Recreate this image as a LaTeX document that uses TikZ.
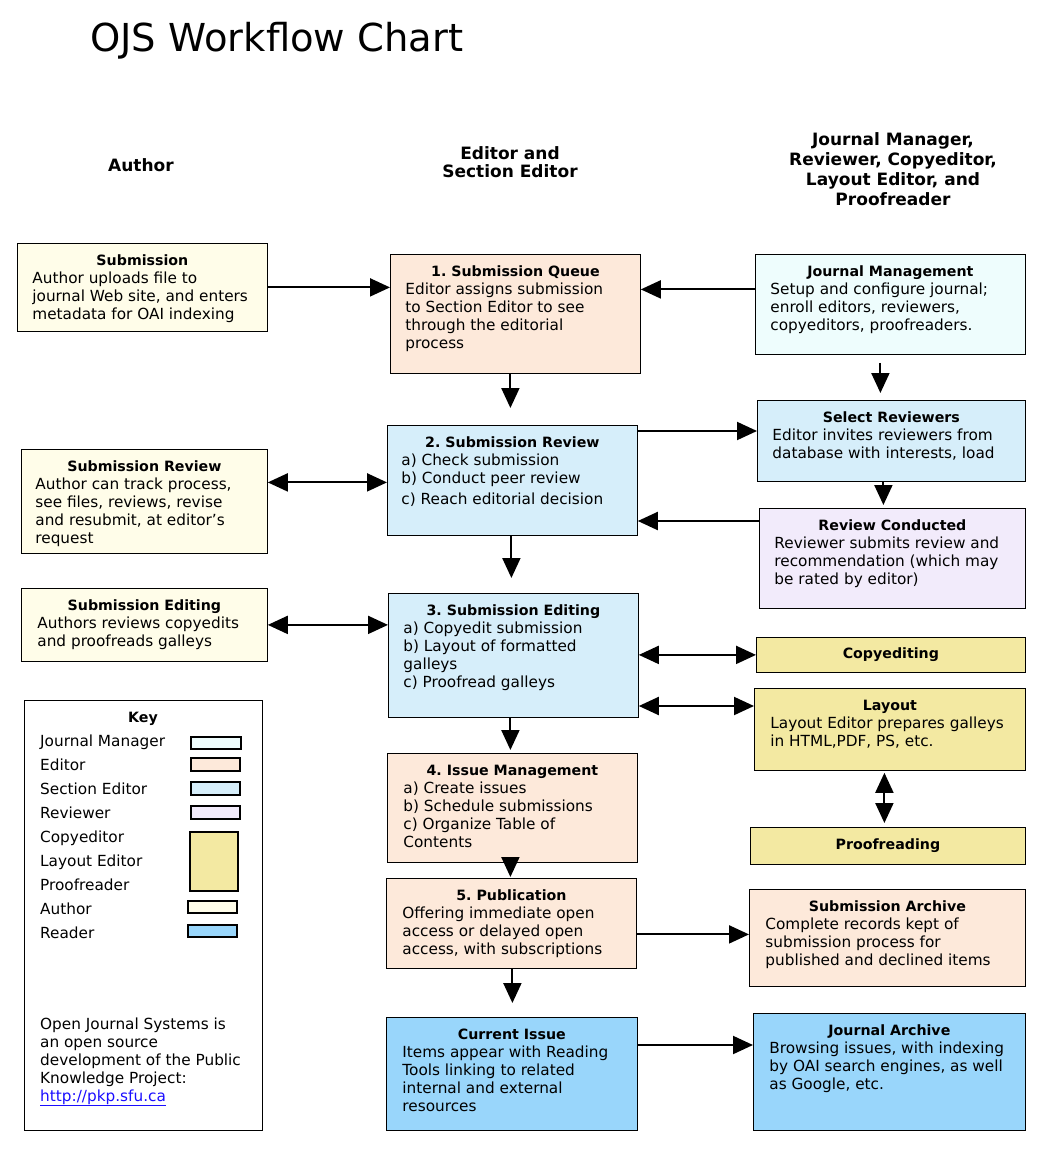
\documentclass[tikz,border=0pt]{standalone}
\usepackage{fontspec}
\setmainfont{DejaVu Sans}
\usetikzlibrary{arrows.meta,calc}
\frenchspacing
\definecolor{cAuthor}{HTML}{FFFDE9}
\definecolor{cEditor}{HTML}{FDE9DA}
\definecolor{cJM}{HTML}{EEFDFD}
\definecolor{cSE}{HTML}{D6EEFA}
\definecolor{cRev}{HTML}{F2EBFB}
\definecolor{cCopy}{HTML}{F3E9A2}
\definecolor{cReader}{HTML}{99D6FB}
\definecolor{cLink}{HTML}{1A0DFF}
\newcommand{\bodyfont}{\fontsize{15.3}{18}\selectfont}
\newcommand{\ttlfont}{\fontsize{14.2}{18}\selectfont\bfseries}
\newcommand{\bxc}[4]{\parbox[t][#2pt][t]{#1pt}{\frenchspacing\bodyfont\parskip=0pt{\centering\ttlfont\rule{0pt}{18.5pt}#3\par}\raggedright #4}}
\tikzset{
  box/.style={draw, line width=0.8pt, inner xsep=15pt, inner ysep=4pt, anchor=north west},
  sbox/.style={draw, line width=0.8pt, inner sep=0pt, anchor=north west, font=\ttlfont},
  arr/.style={line width=2pt, -{Triangle[length=20pt,width=18pt]}},
  darr/.style={line width=2pt, {Triangle[length=20pt,width=18pt]}-{Triangle[length=20pt,width=18pt]}},
  hdr/.style={font=\fontsize{17}{20}\selectfont\bfseries, align=center},
  keyitem/.style={anchor=base west, font=\bodyfont, inner sep=0pt},
  sw/.style={draw, line width=1.2pt}
}
\begin{document}
\begin{tikzpicture}[x=1pt,y=-1pt]
\useasboundingbox (0,0) rectangle (1052,1150);
\fill[white] (0,0) rectangle (1052,1150);

\node[anchor=base west, inner sep=0pt, font=\fontsize{38.5}{40}\selectfont] (title) at (90,52) {OJS Workflow Chart};

\node[hdr] (h1) at (141,165) {Author};
\node[hdr, font=\fontsize{17}{18}\selectfont\bfseries] (h2) at (510,162) {Editor and\\Section Editor};
\node[hdr] (h3) at (893,169) {Journal Manager,\\Reviewer, Copyeditor,\\Layout Editor, and\\Proofreader};

% boxes
\node[box, fill=cAuthor] (sub) at (17,243) {\bxc{220}{80}{Submission}{Author uploads file to\\journal Web site, and enters\\metadata for OAI indexing}};
\node[box, fill=cEditor] (q) at (390,254) {\bxc{220}{111}{1. Submission Queue}{Editor assigns submission\\to Section Editor to see\\through the editorial\\process}};
\node[box, fill=cJM] (jm) at (755,254) {\bxc{240}{92}{Journal Management}{Setup and configure journal;\\enroll editors, reviewers,\\copyeditors, proofreaders.}};
\node[box, fill=cSE] (sel) at (757,400) {\bxc{238}{73}{Select Reviewers}{Editor invites reviewers from\\database with interests, load}};
\node[box, fill=cRev] (rc) at (759,508) {\bxc{236}{92}{Review Conducted}{Reviewer submits review and\\recommendation (which may\\be rated by editor)}};
\node[box, fill=cSE, inner xsep=14pt] (rev) at (387,425) {\bxc{222}{102}{2. Submission Review}{a) Check submission\\b) Conduct peer review\\[3pt]c) Reach editorial decision}};
\node[box, fill=cAuthor, inner xsep=14pt] (asr) at (21,449) {\bxc{218}{96}{Submission Review}{Author can track process,\\see files, reviews, revise\\and resubmit, at editor's\\request}};
\node[box, fill=cAuthor, inner xsep=16pt] (aed) at (21,588) {\bxc{214}{65}{Submission Editing}{Authors reviews copyedits\\and proofreads galleys}};
\node[box, fill=cSE] (ed) at (388,593) {\bxc{220}{116}{3. Submission Editing}{a) Copyedit submission\\b) Layout of formatted\\galleys\\c) Proofread galleys}};
\node[sbox, fill=cCopy, minimum width=269pt, minimum height=35pt] (cop) at (756,637) {Copyediting};
\node[box, fill=cCopy, inner xsep=16pt] (lay) at (754,688) {\bxc{239}{74}{Layout}{Layout Editor prepares galleys\\in HTML,PDF, PS, etc.}};
\node[sbox, fill=cCopy, minimum width=275pt, minimum height=37pt] (proof) at (750,827) {Proofreading};
\node[box, fill=cEditor, inner xsep=16pt] (im) at (387,753) {\bxc{218}{101}{4. Issue Management}{a) Create issues\\b) Schedule submissions\\c) Organize Table of\\Contents}};
\node[box, fill=cEditor, inner xsep=16pt] (pub) at (386,878) {\bxc{218}{82}{5. Publication}{Offering immediate open\\access or delayed open\\access, with subscriptions}};
\node[box, fill=cEditor, inner xsep=16pt] (sa) at (749,889) {\bxc{244}{89}{Submission Archive}{Complete records kept of\\submission process for\\published and declined items}};
\node[box, fill=cReader, inner xsep=16pt] (ci) at (386,1017) {\bxc{219}{105}{Current Issue}{Items appear with Reading\\Tools linking to related\\internal and external\\resources}};
\node[box, fill=cReader, inner xsep=16pt] (ja) at (753,1013) {\bxc{240}{109}{Journal Archive}{Browsing issues, with indexing\\by OAI search engines, as well\\as Google, etc.}};

% key
\node[draw, line width=0.8pt, fill=white, anchor=north west, minimum width=238pt, minimum height=430pt, inner sep=0pt] (key) at (24,700) {};
\node[anchor=base, inner sep=0pt, font=\ttlfont] (keyt) at (143,722) {Key};
\node[keyitem] (k1) at (40,746) {Journal Manager};
\node[keyitem] (k2) at (40,770) {Editor};
\node[keyitem] (k3) at (40,794) {Section Editor};
\node[keyitem] (k4) at (40,818) {Reviewer};
\node[keyitem] (k5) at (40,842) {Copyeditor};
\node[keyitem] (k6) at (40,866) {Layout Editor};
\node[keyitem] (k7) at (40,890) {Proofreader};
\node[keyitem] (k8) at (40,914) {Author};
\node[keyitem] (k9) at (40,938) {Reader};
\draw[sw, fill=cJM] (191,737) rectangle (241,749);
\draw[sw, fill=cEditor] (191,758) rectangle (240,771);
\draw[sw, fill=cSE] (191,782) rectangle (240,795);
\draw[sw, fill=cRev] (191,806) rectangle (240,819);
\draw[sw, fill=cCopy] (190,832) rectangle (238,891);
\draw[sw, fill=cAuthor] (188,901) rectangle (237,913);
\draw[sw, fill=cReader] (188,925) rectangle (237,937);
\node[anchor=base west, inner sep=0pt, align=left, font=\bodyfont] (note) at (40,1101) {Open Journal Systems is\\an open source\\development of the Public\\Knowledge Project:\\\textcolor{cLink}{\underline{http://pkp.sfu.ca}}};

% connectors
\draw[arr] (sub.east) -- (sub.east -| q.west);
\draw[arr] ([yshift=15pt]jm.west) -- ([yshift=15pt]jm.west -| q.east);
\draw[arr, shorten >=17pt] ([xshift=-5pt]q.south) -- ([xshift=-5pt]q.south |- rev.north);
\draw[arr, shorten <=8pt, shorten >=7pt] ([xshift=-10pt]jm.south) -- ([xshift=-10pt]jm.south |- sel.north);
\draw[arr] ([yshift=-6pt]rev.north east) -- ([yshift=-6pt]rev.north east -| sel.west);
\draw[arr, shorten >=3pt] ([xshift=-8pt]sel.south) -- ([xshift=-8pt]sel.south |- rc.north);
\draw[arr] ([yshift=-13pt]rc.north west) -- ([yshift=-13pt]rc.north west -| rev.east);
\draw[darr] ([yshift=-2pt]rev.west) -- ([yshift=-2pt]rev.west -| asr.east);
\draw[arr, shorten >=15pt] ([xshift=-1pt]rev.south) -- ([xshift=-1pt]rev.south |- ed.north);
\draw[darr] (aed.east) -- (aed.east -| ed.west);
\draw[darr] (cop.west) -- (cop.west -| ed.east);
\draw[darr] ([yshift=-18pt]lay.north west) -- ([yshift=-18pt]lay.north west -| ed.east);
\draw[darr, shorten <=2pt, shorten >=4pt] ([xshift=-5.5pt]lay.south) -- ([xshift=-5.5pt]lay.south |- proof.north);
\draw[arr, shorten >=3pt] ([xshift=-3pt]ed.south) -- ([xshift=-3pt]ed.south |- im.north);
\draw[arr, shorten >=1pt] ([xshift=-2pt]im.south) -- ([xshift=-2pt]im.south |- pub.north);
\draw[arr] ([yshift=-11pt]pub.east) -- ([yshift=-11pt]pub.east -| sa.west);
\draw[arr, shorten >=14pt] ([xshift=1pt]pub.south) -- ([xshift=1pt]pub.south |- ci.north);
\draw[arr] ([yshift=-28pt]ci.north east) -- ([yshift=-28pt]ci.north east -| ja.west);
\end{tikzpicture}
\end{document}
